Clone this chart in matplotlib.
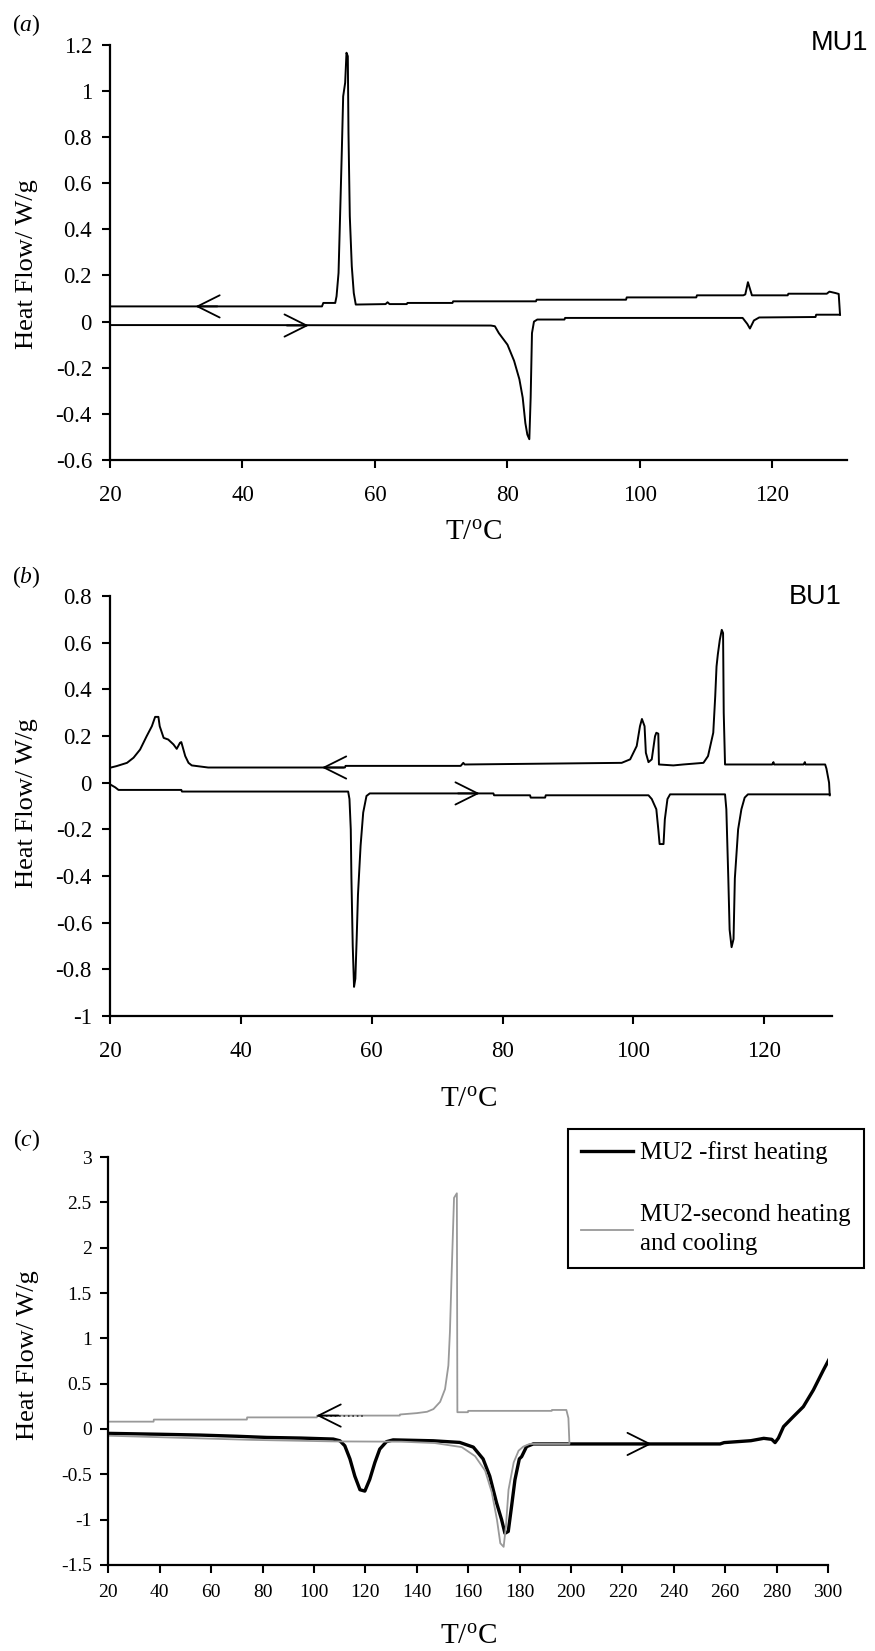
import matplotlib
matplotlib.use("Agg")
import matplotlib.pyplot as plt

plt.rcParams['font.family'] = ['Liberation Serif', 'DejaVu Serif']
plt.rcParams['mathtext.fontset'] = 'custom'
plt.rcParams['mathtext.rm'] = 'Liberation Serif'
plt.rcParams['mathtext.it'] = 'Liberation Serif:italic'

# ---- (a) MU1 ----
heat_a_T = [20, 40, 60, 77.5, 78.1, 78.7, 80.0, 81.0, 81.8, 82.3, 82.7, 83.0, 83.3,
            83.5, 83.7, 84.0, 84.5, 88.6, 88.7, 100, 115.5, 116.2, 116.6, 117.2,
            118.0, 126.5, 126.6, 130.2]
heat_a_Q = [-0.015, -0.015, -0.016, -0.017, -0.02, -0.05, -0.10, -0.17, -0.25, -0.33,
            -0.44, -0.49, -0.51, -0.33, -0.05, 0.0, 0.009, 0.009, 0.016, 0.016, 0.016,
            -0.01, -0.03, 0.005, 0.018, 0.02, 0.03, 0.03]
cool_a_T = [130.2, 130.0, 129.5, 128.6, 128.2, 122.4, 122.3, 116.9, 116.3, 115.9,
            115.6, 108.6, 108.5, 98.0, 97.9, 84.4, 84.3, 71.8, 71.7, 64.9, 64.8, 62.2,
            61.9, 61.6, 57.1, 56.8, 56.5, 56.2, 56.0, 55.9, 55.7, 55.5, 55.2, 55.0,
            54.8, 54.5, 54.2, 54.0, 52.2, 52.0, 20]
cool_a_Q = [0.03, 0.12, 0.124, 0.13, 0.121, 0.121, 0.114, 0.114, 0.171, 0.118,
            0.114, 0.114, 0.105, 0.105, 0.095, 0.095, 0.088, 0.088, 0.081, 0.081,
            0.076, 0.076, 0.084, 0.076, 0.074, 0.124, 0.24, 0.457, 0.819, 1.151,
            1.166, 1.036, 0.977, 0.746, 0.529, 0.211, 0.11, 0.081, 0.081, 0.066, 0.066]

# ---- (b) BU1 ----
heat_b_T = [20.0, 20.8, 21.3, 30.9, 31.0, 56.4, 56.6, 56.8, 56.9, 57.1, 57.3, 57.5,
            57.7, 57.9, 58.3, 58.7, 59.2, 59.7, 78.6, 78.7, 84.2, 84.3, 86.5, 86.6,
            102.3, 102.8, 103.5, 103.8, 104.0, 104.6, 104.8, 105.2, 105.6, 114.0,
            114.2, 114.5, 114.7, 115.0, 115.3, 115.5, 116.0, 116.5, 117.0, 117.5, 130.0]
heat_b_Q = [-0.007, -0.02, -0.031, -0.031, -0.038, -0.038, -0.07, -0.2, -0.41, -0.7,
            -0.875, -0.84, -0.67, -0.48, -0.27, -0.128, -0.057, -0.046, -0.046, -0.054,
            -0.054, -0.064, -0.064, -0.054, -0.054, -0.07, -0.114, -0.2, -0.263, -0.263,
            -0.157, -0.07, -0.05, -0.05, -0.114, -0.41, -0.63, -0.705, -0.67, -0.41,
            -0.2, -0.114, -0.064, -0.05, -0.05]
cool_b_T = [130.0, 129.9, 129.7, 129.5, 129.3, 126.3, 126.2, 126.0, 121.5, 121.4,
            121.2, 114.0, 113.8, 113.7, 113.5, 113.2, 112.9, 112.7, 112.5, 112.2,
            111.4, 110.7, 107.6, 106.1, 103.9, 103.8, 103.5, 103.3, 102.8, 102.3,
            101.9, 101.7, 101.3, 101.0, 100.5, 99.5, 98.2, 74.2, 74.0, 73.6, 56.0,
            55.9, 35.0, 32.5, 32.0, 31.5, 30.9, 30.7, 30.2, 29.7, 28.9, 28.2, 27.6,
            27.4, 26.9, 26.4, 25.6, 24.6, 23.6, 22.6, 21.0, 20.0]
cool_b_Q = [-0.054, 0.0, 0.03, 0.06, 0.078, 0.078, 0.088, 0.078, 0.078, 0.088,
            0.078, 0.078, 0.3, 0.641, 0.655, 0.612, 0.55, 0.498, 0.37, 0.214,
            0.114, 0.085, 0.078, 0.074, 0.078, 0.21, 0.214, 0.199, 0.1, 0.088,
            0.128, 0.242, 0.273, 0.242, 0.157, 0.1, 0.085, 0.078, 0.085, 0.072, 0.072,
            0.065, 0.065, 0.074, 0.085, 0.114, 0.174, 0.171, 0.145, 0.164, 0.185,
            0.192, 0.242, 0.282, 0.282, 0.242, 0.199, 0.142, 0.107, 0.085, 0.071, 0.064]

# ---- (c) MU2 ----
first_T = [20, 40, 55.7, 70, 81.6, 95, 107.5, 110.1, 112, 114, 115.9, 117.9, 119.8,
           121.7, 123.7, 125.6, 128.2, 130.8, 146.4, 156.7, 162, 165.8, 168.4, 171,
           173, 174.3, 175.6, 176.9, 178.2, 179.9, 180.8, 182.7, 185.3, 200, 230, 258,
           259.6, 270, 275, 278.1, 279.4, 280.7, 282.7, 286.5, 290.4, 294.3, 298.2, 301]
first_Q = [-0.048, -0.058, -0.067, -0.08, -0.093, -0.1, -0.111, -0.13, -0.185, -0.33,
           -0.52, -0.67, -0.685, -0.556, -0.37, -0.222, -0.14, -0.12, -0.13, -0.148,
           -0.2, -0.33, -0.52, -0.81, -1.0, -1.15, -1.13, -0.85, -0.56, -0.33, -0.305,
           -0.195, -0.165, -0.165, -0.165, -0.165, -0.15, -0.129, -0.103, -0.114,
           -0.15, -0.1, 0.026, 0.136, 0.246, 0.43, 0.65, 0.8]
second_T = [20, 43.2, 75.6, 108, 134, 147, 157.5, 162.7, 166.6, 169.2, 171.2, 172.5,
            173.8, 174.7, 175.7, 177.7, 179.6, 181.4, 183.9, 199.4,
            199.0, 198.2, 192.6, 192.5, 160.0, 159.9, 155.8, 155.6, 154.5, 153.6,
            152.9, 152.3, 151.0, 149.1, 146.5, 144.0, 140.0, 133.5, 133.4, 101.2,
            101.1, 74.0, 73.9, 37.7, 37.6, 20]
second_Q = [-0.074, -0.093, -0.12, -0.137, -0.14, -0.155, -0.2, -0.3, -0.46, -0.7,
            -1.0, -1.26, -1.3, -1.07, -0.67, -0.37, -0.24, -0.195, -0.165, -0.165,
            0.12, 0.21, 0.21, 0.2, 0.2, 0.185, 0.185, 2.6, 2.55, 1.74, 1.07, 0.7, 0.44,
            0.3, 0.22, 0.19, 0.175, 0.16, 0.148, 0.148, 0.128, 0.128, 0.104, 0.104,
            0.081, 0.081]

legend_labels = ['MU2 -first heating', 'MU2-second heating\nand cooling']
ylab = 'Heat Flow/ W/g'
xlab = r'T/$^{\rm o}$C'

fig = plt.figure(figsize=(8.75, 16.51), dpi=100)
ax1 = fig.add_axes([0.1257, 0.7214, 0.8419, 0.2514])
ax2 = fig.add_axes([0.1257, 0.3846, 0.8248, 0.2544])
ax3 = fig.add_axes([0.1238, 0.0521, 0.8225, 0.2471])

head = '->,head_length=0.8,head_width=0.4'


def arrow(ax, tip, y, length, color='black'):
    ax.annotate('', xy=(tip, y), xytext=(tip + length, y),
                arrowprops=dict(arrowstyle=head, lw=1.3, color=color,
                                shrinkA=0, shrinkB=0, mutation_scale=20))


def style(ax, size, xpad, ypad):
    for s in ['top', 'right']:
        ax.spines[s].set_visible(False)
    for s in ['left', 'bottom']:
        ax.spines[s].set_linewidth(1.6)
    ax.tick_params(direction='out', length=6, width=1.5, labelsize=size)
    ax.tick_params(axis='x', pad=xpad)
    ax.tick_params(axis='y', pad=ypad)


# panel a
ax1.plot(heat_a_T, heat_a_Q, color='black', lw=1.4)
ax1.plot(cool_a_T, cool_a_Q, color='black', lw=1.4)
ax1.set_xlim(20, 131.2)
ax1.set_ylim(-0.6, 1.2)
ax1.set_xticks([20, 40, 60, 80, 100, 120])
ax1.set_yticks([-0.6, -0.4, -0.2, 0, 0.2, 0.4, 0.6, 0.8, 1.0, 1.2])
ax1.set_yticklabels(['-0.6', '-0.4', '-0.2', '0', '0.2', '0.4', '0.6', '0.8', '1', '1.2'])
style(ax1, 16.5, 12, 7)
arrow(ax1, 32.9, 0.066, 3.3)
arrow(ax1, 50.0, -0.017, -3.3)
ax1.set_xlabel(xlab, fontsize=21, va='center', ha='center')
ax1.xaxis.set_label_coords(0.493, -0.176)
ax1.set_ylabel(ylab, fontsize=19, va='center', ha='center')
ax1.yaxis.set_label_coords(-0.1127, 0.472)

# panel b
ax2.plot(heat_b_T, heat_b_Q, color='black', lw=1.4)
ax2.plot(cool_b_T, cool_b_Q, color='black', lw=1.4)
ax2.set_xlim(20, 130.3)
ax2.set_ylim(-1, 0.8)
ax2.set_xticks([20, 40, 60, 80, 100, 120])
ax2.set_yticks([-1, -0.8, -0.6, -0.4, -0.2, 0, 0.2, 0.4, 0.6, 0.8])
ax2.set_yticklabels(['-1', '-0.8', '-0.6', '-0.4', '-0.2', '0', '0.2', '0.4', '0.6', '0.8'])
style(ax2, 16.5, 12, 7)
arrow(ax2, 52.4, 0.065, 3.3)
arrow(ax2, 76.5, -0.046, -3.3)
ax2.set_xlabel(xlab, fontsize=21, va='center', ha='center')
ax2.xaxis.set_label_coords(0.497, -0.2)
ax2.set_ylabel(ylab, fontsize=19, va='center', ha='center')
ax2.yaxis.set_label_coords(-0.115, 0.507)

# panel c
l1, = ax3.plot(first_T, first_Q, color='black', lw=2.4)
l2, = ax3.plot(second_T, second_Q, color='#999999', lw=1.3)
ax3.plot([101, 119.3], [0.148, 0.148], color='#333333', lw=1.2, ls=':')
ax3.set_xlim(20, 300)
ax3.set_ylim(-1.5, 3)
ax3.set_xticks(range(20, 301, 20))
ax3.set_yticks([-1.5, -1, -0.5, 0, 0.5, 1, 1.5, 2, 2.5, 3])
ax3.set_yticklabels(['-1.5', '-1', '-0.5', '0', '0.5', '1', '1.5', '2', '2.5', '3'])
style(ax3, 14, 8, 6)
arrow(ax3, 101, 0.148, 8.5)
arrow(ax3, 231.4, -0.165, -7.8)
ax3.set_xlabel(xlab, fontsize=21, va='center', ha='center')
ax3.xaxis.set_label_coords(0.4998, -0.1765)
ax3.set_ylabel(ylab, fontsize=19, va='center', ha='center')
ax3.yaxis.set_label_coords(-0.1116, 0.515)

leg = ax3.legend([l1, l2], legend_labels, loc='upper left',
                 bbox_to_anchor=(568 / 875, 1 - 1129 / 1651), bbox_transform=fig.transFigure,
                 fontsize=18, frameon=True, fancybox=False, edgecolor='black', framealpha=1,
                 handlelength=2.1, handletextpad=0.3, labelspacing=1.6, borderpad=0.5,
                 borderaxespad=0)
leg.get_frame().set_linewidth(1.5)
for t in leg.get_texts():
    t.set_linespacing(1.4)

# panel tags and sample names
fig.text(12 / 875, 1 - 25 / 1651, r'($a$)', fontsize=17, va='center', ha='left')
fig.text(12 / 875, 1 - 577 / 1651, r'($b$)', fontsize=17, va='center', ha='left')
fig.text(13 / 875, 1 - 1140 / 1651, r'($c$)', fontsize=17, va='center', ha='left')
fig.text(868 / 875, 1 - 43 / 1651, 'MU1', fontsize=19.5, family='Liberation Sans',
         va='center', ha='right')
fig.text(842 / 875, 1 - 597 / 1651, 'BU1', fontsize=19.5, family='Liberation Sans',
         va='center', ha='right')

fig.savefig('out.png', dpi=100)
